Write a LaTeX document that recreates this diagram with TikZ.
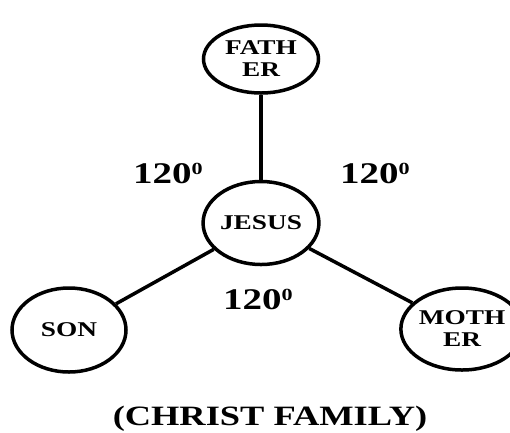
\documentclass[tikz,border=0pt]{standalone}
\usepackage{fontspec}
\setmainfont{Liberation Serif}[FakeStretch=1.3]
\usepackage{tikz}
\usetikzlibrary{positioning}
\usetikzlibrary{arrows,shapes}
\tikzstyle{vertex}=[ellipse,draw,line width=3.5pt,inner sep=0pt,align=center,font=\bfseries\fontsize{21}{22}\selectfont]
\tikzstyle{undirectededge} = [draw,line width=3.5pt]
\tikzstyle{angle} = [font=\bfseries\fontsize{30}{30}\selectfont]
\tikzstyle{caption} = [font=\bfseries\fontsize{28}{28}\selectfont]
\newcommand{\degsup}{\raisebox{9pt}{\fontsize{17}{17}\selectfont 0}}

\begin{document}
\begin{tikzpicture}[x=1pt, y=-1pt]
    \useasboundingbox (0,0) rectangle (510,432);
    % First we draw the family members
    \foreach \pos/\name/\txt/\w/\h in {{(261,59)/father/{FATH\\ER}/115/68}, {(261,223)/jesus/{JESUS}/112/83}, {(69,330)/son/{SON}/114/84}, {(462,329)/mother/{MOTH\\ER}/110/82}}
        \node[vertex, minimum width=\w pt, minimum height=\h pt] (\name) at \pos {\txt};

    % Connect members with edges
    \foreach \source/ \dest in {father/jesus, jesus/son, jesus/mother}
        \path[undirectededge] (\source) -- (\dest);

    % Angles between the edges
    \foreach \pos/\name in {{(168,173)/leftangle}, {(375,173)/rightangle}, {(258,299)/lowangle}}
        \node[angle] (\name) at \pos {120\degsup};

    \node[caption] (title) at (270,419) {(CHRIST FAMILY)};
\end{tikzpicture}
\end{document}
